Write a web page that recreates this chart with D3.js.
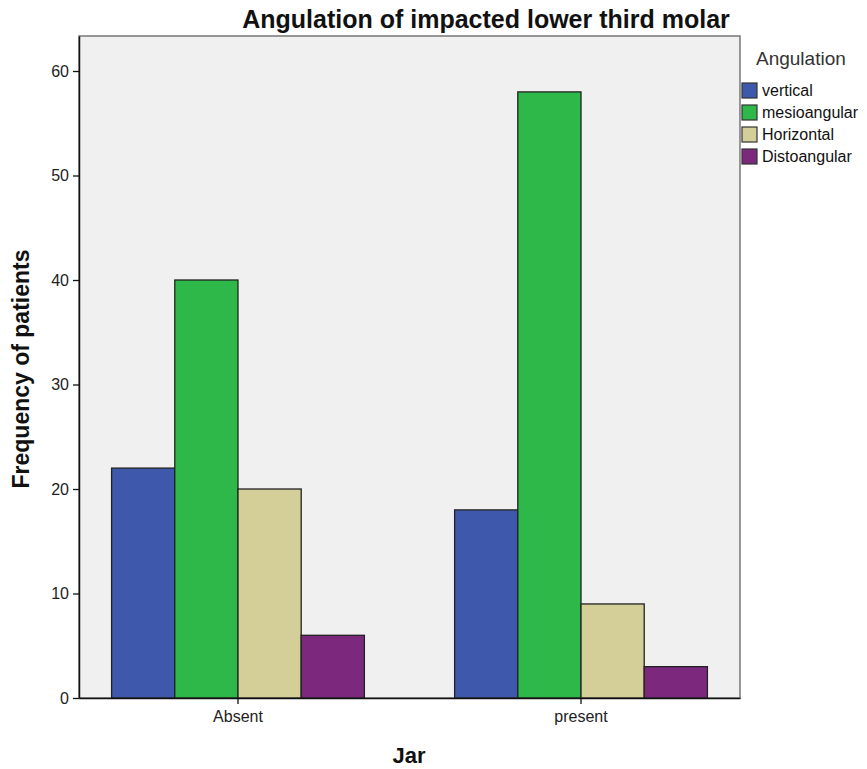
<!DOCTYPE html>
<html>
<head>
<meta charset="utf-8">
<script src="https://cdn.jsdelivr.net/npm/d3@7"></script>
<style>
  body { margin: 0; background: #fff; font-family: Arial, "Liberation Sans", sans-serif; }
</style>
</head>
<body>
<svg id="chart" width="867" height="769"></svg>
<script>
// データ
const groups = ['Absent', 'present'];
const series = ['vertical', 'mesioangular', 'Horizontal', 'Distoangular'];
const colors = ['#3e58ac', '#2eb84a', '#d4cf98', '#7b287d'];
const values = {
  Absent:  [22, 40, 20, 6],
  present: [18, 58, 9, 3]
};
const yTicks = [0, 10, 20, 30, 40, 50, 60];

const svg = d3.select('#chart');
const P = { left: 79, right: 740, top: 36, bottom: 698 };

const x0 = d3.scaleBand().domain(groups).range([P.left, P.right])
  .paddingInner(0.263).paddingOuter(0.095);
const x1 = d3.scaleBand().domain(series).range([0, x0.bandwidth()]);
const y = d3.scaleLinear().domain([0, 63.35]).range([P.bottom, P.top]);

// プロット背景
svg.append('rect')
  .attr('x', P.left).attr('y', P.top)
  .attr('width', P.right - P.left).attr('height', P.bottom - P.top)
  .attr('fill', '#f0f0f0').attr('stroke', '#777').attr('stroke-width', 1.5);

// バー
groups.forEach(g => {
  svg.append('g').selectAll('rect').data(values[g]).enter().append('rect')
    .attr('x', (d, i) => x0(g) + x1(series[i]))
    .attr('y', d => y(d))
    .attr('width', x1.bandwidth())
    .attr('height', d => y(0) - y(d))
    .attr('fill', (d, i) => colors[i])
    .attr('stroke', '#222').attr('stroke-width', 1.3);
});

// 軸
const yAxis = svg.append('g').attr('transform', `translate(${P.left},0)`)
  .call(d3.axisLeft(y).tickValues(yTicks).tickSize(6).tickSizeOuter(0).tickPadding(4));
const xAxis = svg.append('g').attr('transform', `translate(0,${P.bottom})`)
  .call(d3.axisBottom(x0).tickSize(6).tickSizeOuter(0).tickPadding(7));
[yAxis, xAxis].forEach(a => {
  a.select('.domain').attr('stroke', '#111').attr('stroke-width', 1.5);
  a.selectAll('.tick line').attr('stroke', '#111').attr('stroke-width', 1.3);
  a.selectAll('.tick text').attr('font-size', 16).attr('fill', '#222')
    .attr('font-family', 'Arial, "Liberation Sans", sans-serif');
});

// タイトル
svg.append('text').attr('x', 486).attr('y', 28).attr('text-anchor', 'middle')
  .attr('font-size', 25).attr('font-weight', 'bold').attr('fill', '#111')
  .text('Angulation of impacted lower third molar');
svg.append('text').attr('x', 409).attr('y', 763).attr('text-anchor', 'middle')
  .attr('font-size', 22).attr('font-weight', 'bold').attr('fill', '#111')
  .text('Jar');
svg.append('text').attr('transform', `translate(29,${(P.top + P.bottom) / 2 + 2}) rotate(-90)`)
  .attr('text-anchor', 'middle')
  .attr('font-size', 23).attr('font-weight', 'bold').attr('fill', '#111')
  .text('Frequency of patients');

// 凡例
const lg = svg.append('g');
lg.append('text').attr('x', 756).attr('y', 65).attr('font-size', 19).attr('fill', '#333')
  .text('Angulation');
series.forEach((s, i) => {
  const yy = 83 + i * 22;
  lg.append('rect').attr('x', 742).attr('y', yy).attr('width', 15).attr('height', 15)
    .attr('fill', colors[i]).attr('stroke', '#333').attr('stroke-width', 1.2);
  lg.append('text').attr('x', 762).attr('y', yy + 13).attr('font-size', 16).attr('fill', '#111')
    .text(s);
});
</script>
</body>
</html>
